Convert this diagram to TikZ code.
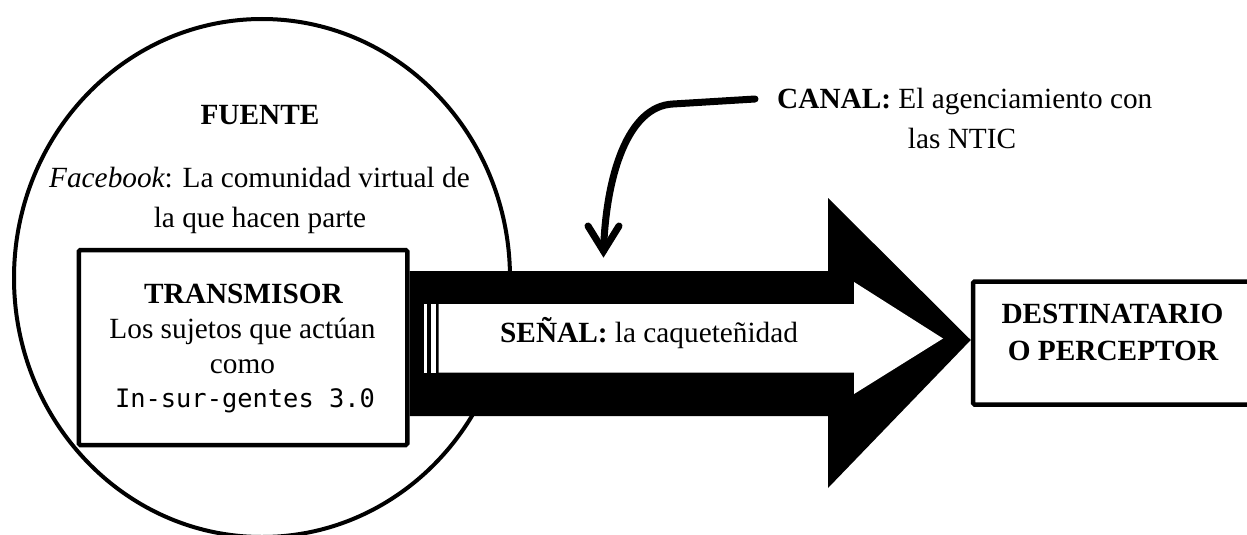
\documentclass[tikz,border=0pt]{standalone}
\usepackage{fontspec}
\setmainfont{Liberation Serif}
\newfontfamily\monofam{DejaVu Sans Mono}
\usetikzlibrary{shapes.geometric}
\begin{document}
\begin{tikzpicture}[x=1pt,y=-1pt,
  txt/.style={font=\fontsize{29.3}{35}\selectfont, inner sep=0pt, anchor=base},
  boxstyle/.style={draw, line width=4.5pt, fill=white, rounded corners=1.5pt, inner sep=0pt},
  curvy/.style={line width=7pt, line cap=round}]
\useasboundingbox (0,0) rectangle (1247,535);
\clip (0,0) rectangle (1247,535);
% source circle
\node[draw, ellipse, line width=4pt, minimum width=496pt, minimum height=518pt, inner sep=0pt] (fuente) at (262,278) {};
% transmitter box
\node[boxstyle, minimum width=328.5pt, minimum height=195pt] (tx) at (243,347.5) {};
% destination box (runs past the right edge)
\node[boxstyle, minimum width=297pt, minimum height=123pt] (dst) at (1121.5,343) {};
% big black arrow from transmitter to destination
\fill[black] (tx.east |- 0,271) -- (828,271) -- (828,198) -- (dst.west |- 0,340) -- (828,488) -- (828,416) -- (tx.east |- 0,416) -- cycle;
% inner white striped arrow
\fill[white] (424,304) rectangle (427,372.5);
\fill[white] (430.5,304) rectangle (436,372.5);
\fill[white] (438.5,304) -- (854,304) -- (854,282) -- (943,338.5) -- (854,394) -- (854,372.5) -- (438.5,372.5) -- cycle;
% texts in circle
\node[txt] (tf) at (260,124.5) {\bfseries FUENTE};
\node[txt] (tf1) at (259.5,187.5) {\itshape Facebook\upshape: La comunidad virtual de};
\node[txt] (tf2) at (260,227) {la que hacen parte};
% texts in transmitter box
\node[txt] (tt) at (243.5,303) {\bfseries TRANSMISOR};
\node[txt] (tt1) at (242.5,338) {Los sujetos que actúan};
\node[txt] (tt2) at (242.5,373) {como};
\node[txt, font=\monofam\fontsize{25.4}{30}\selectfont] (tt3) at (245,407) {In-sur-gentes 3.0};
% signal
\node[txt, anchor=base west] (sen) at (500,342) {\textbf{SEÑAL:} la caqueteñidad};
% channel
\node[txt, anchor=base west] (can1) at (777,108) {\textbf{CANAL:} El agenciamiento con};
\node[txt] (can2) at (962,148) {las NTIC};
% destination
\node[txt] (d1) at (1112.5,323) {\bfseries DESTINATARIO};
\node[txt] (d2) at (1113,360) {\bfseries O PERCEPTOR};
% curved pointer from channel label
\coordinate (cstart) at (755,99);
\coordinate (ctip) at (603.5,251);
\draw[curvy] (cstart) -- (673,104) .. controls (628,106) and (606,175) .. (ctip);
\draw[curvy, line join=miter] (588,226) -- (ctip) -- (619,226);
\end{tikzpicture}
\end{document}
